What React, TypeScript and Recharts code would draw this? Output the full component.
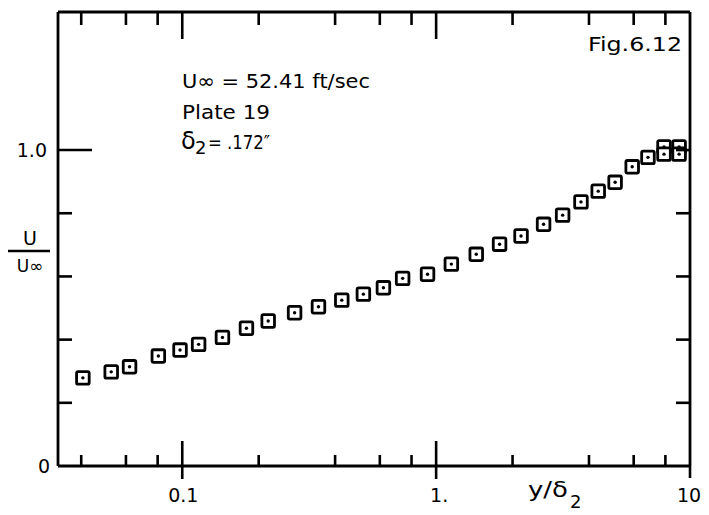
import React from "react";
import { ScatterChart, Scatter, XAxis, YAxis } from "recharts";

// y / delta2 (log axis) and U / Uinf
const yOverDelta = [
  0.0406, 0.0525, 0.062, 0.0805, 0.098, 0.116, 0.144, 0.179, 0.218, 0.277,
  0.344, 0.425, 0.517, 0.62, 0.738, 0.925, 1.148, 1.439, 1.778, 2.16, 2.65,
  3.15, 3.72, 4.35, 5.07, 5.92, 6.83, 7.9, 7.9, 9.06, 9.06,
];
const uOverUinf = [
  0.279, 0.298, 0.314, 0.348, 0.367, 0.385, 0.407, 0.436, 0.459, 0.485,
  0.504, 0.525, 0.544, 0.564, 0.594, 0.607, 0.639, 0.67, 0.702, 0.728, 0.765,
  0.794, 0.836, 0.87, 0.898, 0.947, 0.977, 1.01, 0.987, 1.01, 0.987,
];

const xTicks = [0.04, 0.06, 0.08, 0.1, 0.2, 0.4, 0.6, 0.8, 1, 2, 4, 6, 8, 10];
const yTicks = [0, 0.2, 0.4, 0.6, 0.8, 1.0];
const xLabels: Record<string, string> = { "0.1": "0.1", "1": "1.", "10": "10." };
const yLabels: Record<string, string> = { "0": "0", "1": "1.0" };

const data = yOverDelta.map((x, i) => ({ x, y: uOverUinf[i] }));

const FONT = "'DejaVu Sans', sans-serif";
const INK = "#000";
const W = 2.6;

const BottomTick = (props: any) => {
  const { x, y, payload } = props;
  const v = payload.value;
  const major = v === 0.1 || v === 1;
  const label = xLabels[String(v)];
  return (
    <g>
      {v === 10 ? (
        <line x1={x} y1={y} x2={x} y2={y + 12} stroke={INK} strokeWidth={W} />
      ) : major ? (
        <line x1={x} y1={y - 25} x2={x} y2={y + 13} stroke={INK} strokeWidth={W} />
      ) : (
        <line x1={x} y1={y - 11} x2={x} y2={y} stroke={INK} strokeWidth={W} />
      )}
      {label && (
        <text
          x={v === 10 ? x - 13 : x + (v === 0.1 ? 1 : 3)}
          y={y + 36}
          textAnchor={v === 10 ? "start" : "middle"}
          fontFamily={FONT}
          fontSize={19}
          fill={INK}
        >
          {label}
        </text>
      )}
    </g>
  );
};

const TopTick = (props: any) => {
  const { x, y, payload } = props;
  const v = payload.value;
  if (v === 10) return <g />;
  const len = v === 0.1 || v === 1 ? 27 : 13;
  return <line x1={x} y1={y} x2={x} y2={y + len} stroke={INK} strokeWidth={W} />;
};

const LeftTick = (props: any) => {
  const { x, y, payload } = props;
  const v = payload.value;
  const label = yLabels[String(v)];
  return (
    <g>
      {v !== 0 && (
        <line x1={x} y1={y} x2={x + (v === 1 ? 34 : 14)} y2={y} stroke={INK} strokeWidth={W} />
      )}
      {label && (
        <text
          x={x - (v === 0 ? 8 : 11)}
          y={y + 7}
          textAnchor="end"
          fontFamily={FONT}
          fontSize={19}
          fill={INK}
        >
          {label}
        </text>
      )}
    </g>
  );
};

const RightTick = (props: any) => {
  const { x, y, payload } = props;
  if (payload.value === 0) return <g />;
  return <line x1={x - 14} y1={y} x2={x} y2={y} stroke={INK} strokeWidth={W} />;
};

const BoxMarker = (props: any) => {
  const { cx, cy } = props;
  return (
    <g>
      <rect x={cx - 6.3} y={cy - 6.3} width={12.6} height={12.6} rx={1.5} fill="#fff" stroke={INK} strokeWidth={2.8} />
      <circle cx={cx} cy={cy} r={1.7} fill={INK} />
    </g>
  );
};

const axisLine = { stroke: INK, strokeWidth: 2.8 };

export default function App() {
  return (
    <div style={{ position: "relative", width: 701, height: 507 }}>
      <ScatterChart
        width={701}
        height={507}
        margin={{ top: 3, right: 18, bottom: 48, left: 49 }}
        style={{ background: "#fff" }}
      >
        <XAxis
          xAxisId="bottom"
          dataKey="x"
          type="number"
          scale="log"
          domain={[0.0324, 10]}
          allowDataOverflow
          ticks={xTicks}
          interval={0}
          height={1}
          tickSize={0}
          tickMargin={0}
          tickLine={false}
          axisLine={axisLine}
          tick={BottomTick}
        />
        <XAxis
          xAxisId="top"
          orientation="top"
          dataKey="x"
          type="number"
          scale="log"
          domain={[0.0324, 10]}
          allowDataOverflow
          ticks={xTicks}
          interval={0}
          height={1}
          tickSize={0}
          tickMargin={0}
          tickLine={false}
          axisLine={axisLine}
          tick={TopTick}
        />
        <YAxis
          yAxisId="left"
          dataKey="y"
          type="number"
          domain={[0, 1.437]}
          allowDataOverflow
          ticks={yTicks}
          interval={0}
          width={1}
          tickSize={0}
          tickMargin={0}
          tickLine={false}
          axisLine={axisLine}
          tick={LeftTick}
        />
        <YAxis
          yAxisId="right"
          orientation="right"
          dataKey="y"
          type="number"
          domain={[0, 1.437]}
          allowDataOverflow
          ticks={yTicks}
          interval={0}
          width={1}
          tickSize={0}
          tickMargin={0}
          tickLine={false}
          axisLine={axisLine}
          tick={RightTick}
        />
        <Scatter
          data={data}
          xAxisId="bottom"
          yAxisId="left"
          shape={BoxMarker}
          isAnimationActive={false}
        />
      </ScatterChart>
      <svg
        width={701}
        height={507}
        style={{ position: "absolute", left: 0, top: 0, pointerEvents: "none" }}
        fontFamily={FONT}
        fill={INK}
      >
        <text x={174} y={80} fontSize={20} textLength={188} lengthAdjust="spacingAndGlyphs">
          U∞ = 52.41 ft/sec
        </text>
        <text x={174} y={111} fontSize={20} textLength={88} lengthAdjust="spacingAndGlyphs">
          Plate 19
        </text>
        <text x={173} y={141} fontSize={24}>
          δ
        </text>
        <text x={187} y={146} fontSize={18}>
          2
        </text>
        <text x={200} y={141} fontSize={20} textLength={62} lengthAdjust="spacingAndGlyphs">
          = .172″
        </text>
        <text x={580} y={43} fontSize={20} textLength={94} lengthAdjust="spacingAndGlyphs">
          Fig.6.12
        </text>
        <text x={520} y={489} fontSize={22} textLength={40} lengthAdjust="spacingAndGlyphs">
          y/δ
        </text>
        <text x={562} y={500} fontSize={18}>
          2
        </text>
        <text x={22} y={237} fontSize={19} textAnchor="middle">
          U
        </text>
        <line x1={0} y1={243} x2={42} y2={243} stroke={INK} strokeWidth={2.4} />
        <text x={22} y={264} fontSize={17} textAnchor="middle">
          U∞
        </text>
      </svg>
    </div>
  );
}
